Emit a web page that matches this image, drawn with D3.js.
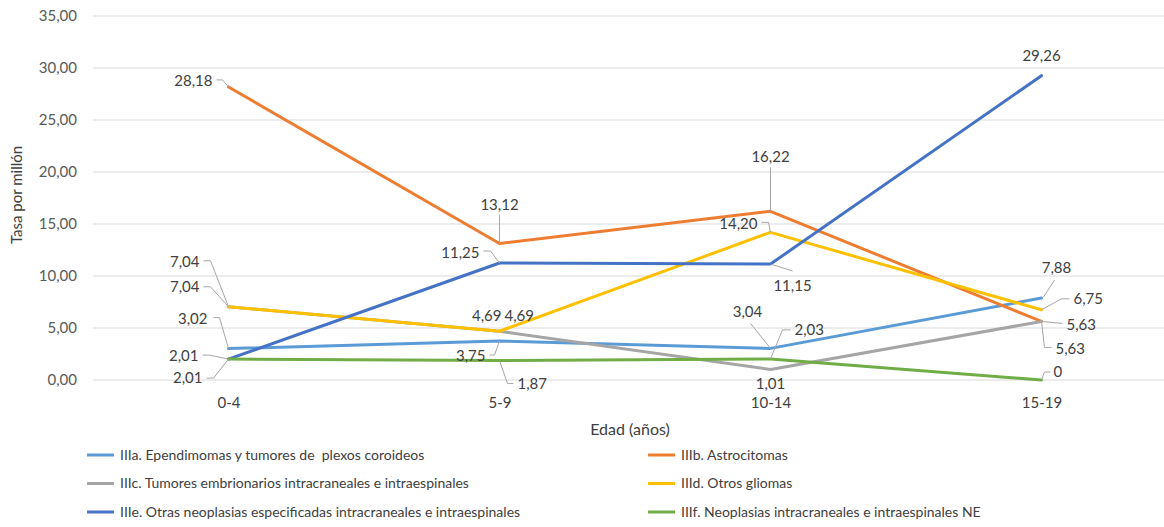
<!DOCTYPE html>
<html>
<head>
<meta charset="utf-8">
<script src="https://cdn.jsdelivr.net/npm/d3@7"></script>
<style>
  html, body { margin: 0; padding: 0; background: #fff; }
  svg { display: block; font-family: Lato, "Open Sans", sans-serif; }
</style>
</head>
<body>
<svg id="chart" width="1164" height="527"></svg>
<script>
// Age groups (x categories)
const categories = ["0-4", "5-9", "10-14", "15-19"];

// Rate per million by tumour subgroup
const seriesNames = [
  "IIIa. Ependimomas y tumores de  plexos coroideos",
  "IIIb. Astrocitomas",
  "IIIc. Tumores embrionarios intracraneales e intraespinales",
  "IIId. Otros gliomas",
  "IIIe. Otras neoplasias especificadas intracraneales e intraespinales",
  "IIIf. Neoplasias intracraneales e intraespinales NE"
];
const valuesIIIa = [3.02, 3.75, 3.04, 7.88];
const valuesIIIb = [28.18, 13.12, 16.22, 5.63];
const valuesIIIc = [7.04, 4.69, 1.01, 5.63];
const valuesIIId = [7.04, 4.69, 14.20, 6.75];
const valuesIIIe = [2.01, 11.25, 11.15, 29.26];
const valuesIIIf = [2.01, 1.87, 2.03, 0];

const yTicks = [0, 5, 10, 15, 20, 25, 30, 35];

const seriesValues = [valuesIIIa, valuesIIIb, valuesIIIc, valuesIIId, valuesIIIe, valuesIIIf];
const colors = ["#5B9BD5", "#ED7D31", "#A5A5A5", "#FFC000", "#4472C4", "#70AD47"];

// Label placement per series/point: text offset [dx, dy, anchor] and leader polyline (offsets from the point)
const labelLayout = [
  [ {t:[-21,-30,"end"], l:[[-15,-31],[-9,-31],[0,0]]},
    {t:[-14,15,"end"],  l:[[-10,14],[-5,14],[0,0]]},
    {t:[-23,-37,"middle"], l:[[-20,-25],[0,0]]},
    {t:[15,-30,"middle"], l:[[13,-18],[2,-1]]} ],
  [ {t:[-16,-6,"end"],  l:[[-12,-7],[-6,-7],[0,0]]},
    {t:[0,-39,"middle"], l:[[0,-29],[0,0]]},
    {t:[0,-55,"middle"], l:[[0,-44],[0,0]]},
    {t:[14,27,"start"], l:[[10,26],[3,26],[0,0]]} ],
  [ {t:[-29,-20,"end"], l:[[-25,-20],[-18,-20],[0,0]]},
    {t:[2,-15,"end"], l:null},
    {t:[0,14,"middle"], l:null},
    {t:[25,3,"start"], l:[[21,2],[0,0]]} ],
  [ {t:[-29,-45,"end"], l:[[-25,-46],[-18,-46],[0,0]]},
    {t:[5,-15,"start"], l:null},
    {t:[-13,-9,"end"], l:[[-9,-10],[-2,-10],[0,0]]},
    {t:[32,-11,"start"], l:[[28,-11],[20,-11],[0,0]]} ],
  [ {t:[-30,-3,"end"], l:[[-26,-4],[-19,-4],[0,0]]},
    {t:[-20,-10,"end"], l:[[-16,-12],[-9,-12],[0,0]]},
    {t:[22,22,"middle"], l:[[22,7],[0,0]]},
    {t:[0,-20,"middle"], l:null} ],
  [ {t:[-26,19,"end"], l:[[-22,19],[-15,19],[0,0]]},
    {t:[18,23,"start"], l:[[14,23],[8,23],[0,0]]},
    {t:[24,-29,"start"], l:[[20,-29],[12,-29],[0,0]]},
    {t:[12,-8,"start"], l:[[9,-8],[3,-8],[0,0]]} ]
];

const fmt = v => v === 0 ? "0" : d3.format(".2f")(v).replace(".", ",");

const svg = d3.select("#chart");
const plot = {left: 93, right: 1177, top: 16, bottom: 380};

const x = d3.scalePoint().domain(categories).range([plot.left, plot.right]).padding(0.5);
const y = d3.scaleLinear().domain([0, 35]).range([plot.bottom, plot.top]);

// Horizontal gridlines
svg.append("g").selectAll("line").data(yTicks).join("line")
  .attr("x1", plot.left).attr("x2", 1164)
  .attr("y1", d => y(d)).attr("y2", d => y(d))
  .attr("stroke", "#D9D9D9").attr("stroke-width", 1);

// Y axis tick labels
const yAxis = svg.append("g").attr("transform", `translate(${plot.left - 16},0)`)
  .call(d3.axisLeft(y).tickValues(yTicks).tickSize(0).tickPadding(0).tickFormat(d => d3.format(".2f")(d).replace(".", ",")));
yAxis.select(".domain").remove();
yAxis.selectAll("text").attr("fill", "#595959").style("font-size", "15px").style("font-family", "Lato, sans-serif");

// X axis tick labels
const xAxis = svg.append("g").attr("transform", `translate(0,${plot.bottom + 17})`)
  .call(d3.axisBottom(x).tickSize(0).tickPadding(0));
xAxis.select(".domain").remove();
xAxis.selectAll("text").attr("fill", "#404040").style("font-size", "15px").style("font-family", "Lato, sans-serif");

// Axis titles
svg.append("text").attr("x", 630).attr("y", 435).attr("text-anchor", "middle")
  .attr("fill", "#404040").style("font-size", "16px").text("Edad (años)");
svg.append("text").attr("transform", "translate(22,195) rotate(-90)").attr("text-anchor", "middle")
  .attr("fill", "#404040").style("font-size", "15px").text("Tasa por millón");

// Lines
const line = d3.line().x((d, i) => x(categories[i])).y(d => y(d));
svg.append("g").selectAll("path").data(seriesValues).join("path")
  .attr("d", d => line(d))
  .attr("fill", "none")
  .attr("stroke", (d, i) => colors[i])
  .attr("stroke-width", 3)
  .attr("stroke-linejoin", "round")
  .attr("stroke-linecap", "round");

// Data labels with leader lines
const lbl = svg.append("g");
seriesValues.forEach((vals, si) => {
  vals.forEach((v, pi) => {
    const px = x(categories[pi]), py = y(v);
    const L = labelLayout[si][pi];
    if (L.l) {
      lbl.append("polyline")
        .attr("points", L.l.map(p => `${px + p[0]},${py + p[1]}`).join(" "))
        .attr("fill", "none").attr("stroke", "#A6A6A6").attr("stroke-width", 1);
    }
    lbl.append("text")
      .attr("x", px + L.t[0]).attr("y", py + L.t[1])
      .attr("dy", "0.35em")
      .attr("text-anchor", L.t[2])
      .attr("fill", "#404040")
      .style("font-size", "15px")
      .text(fmt(v));
  });
});

// Legend: two columns, three rows
const legend = svg.append("g");
seriesNames.forEach((name, i) => {
  const col = i % 2, row = Math.floor(i / 2);
  const lx = col === 0 ? 87 : 648;
  const ly = 455 + row * 28.5;
  legend.append("line").attr("x1", lx).attr("x2", lx + 27).attr("y1", ly).attr("y2", ly)
    .attr("stroke", colors[i]).attr("stroke-width", 3);
  legend.append("text").attr("x", lx + 33).attr("y", ly).attr("dy", "0.35em")
    .attr("fill", "#404040").style("font-size", "14px").style("white-space", "pre")
    .text(name);
});
</script>
</body>
</html>
